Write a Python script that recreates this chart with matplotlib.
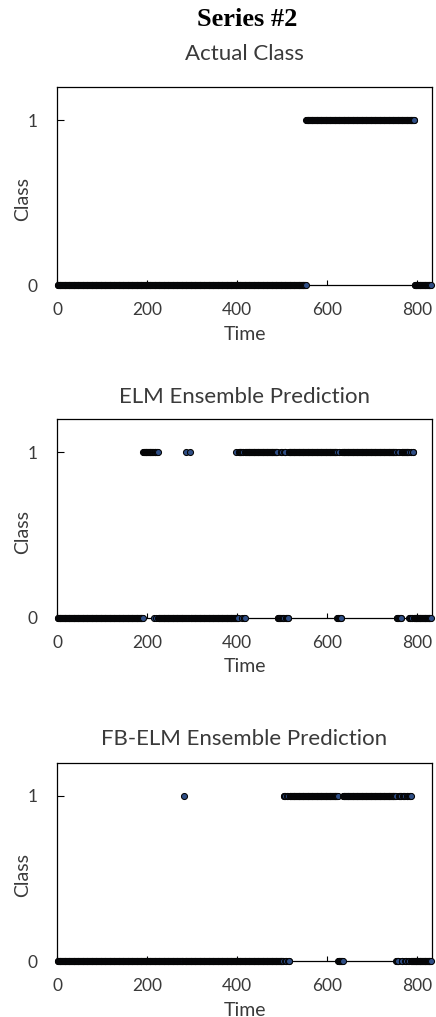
import numpy as np
import matplotlib
matplotlib.use("Agg")
import matplotlib.pyplot as plt

# ---- data: run-length encoded class sequences (start time, end time, class) ----
n_points = 830
actual_runs = [(1, 552, 0), (553, 793, 1), (794, 830, 0)]
elm_runs = [
    (1, 190, 0), (191, 214, 1), (215, 215, 0), (216, 218, 1), (219, 219, 0),
    (220, 223, 1), (224, 284, 0), (285, 285, 1), (286, 294, 0), (295, 295, 1),
    (296, 395, 0), (396, 396, 1), (397, 402, 0), (403, 409, 1), (410, 410, 0),
    (411, 413, 1), (414, 416, 0), (417, 489, 1), (490, 496, 0), (497, 499, 1),
    (500, 503, 0), (504, 507, 1), (508, 513, 0), (514, 621, 1), (622, 625, 0),
    (626, 627, 1), (628, 631, 0), (632, 753, 1), (754, 757, 0), (758, 759, 1),
    (760, 764, 0), (765, 781, 1), (782, 785, 0), (786, 787, 1), (788, 789, 0),
    (790, 791, 1), (792, 830, 0),
]
fbelm_runs = [
    (1, 280, 0), (281, 281, 1), (282, 502, 0), (503, 506, 1), (507, 509, 0),
    (510, 512, 1), (513, 515, 0), (516, 623, 1), (624, 634, 0), (635, 752, 1),
    (753, 758, 0), (759, 764, 1), (765, 767, 0), (768, 772, 1), (773, 775, 0),
    (776, 779, 1), (780, 781, 0), (782, 785, 1), (786, 830, 0),
]
panel_titles = ["Actual Class", "ELM Ensemble Prediction", "FB-ELM Ensemble Prediction"]
x_ticks = [0, 200, 400, 600, 800]
y_ticks = [0, 1]
x_max = 832
y_max = 1.2


def expand(runs):
    t, c = [], []
    for s, e, v in runs:
        for k in range(s, e + 1):
            t.append(k)
            c.append(v)
    return np.array(t), np.array(c)


FONT = ["Lato", "DejaVu Sans"]
TXT = "#3a3a3a"
fig = plt.figure(figsize=(4.36, 10.17), dpi=100)
W, H = 436, 1017
fig.text(247.5 / W, 1 - 20 / H, "Series #2", ha="center", va="center",
         family=["Liberation Serif"], weight="bold", fontsize=19)

panels = [(87, 285), (419, 618), (763, 961)]
title_y = [54, 397, 739]
all_runs = [actual_runs, elm_runs, fbelm_runs]
left, right = 57.3, 431.7
for (top, bot), ty, runs, title in zip(panels, title_y, all_runs, panel_titles):
    ax = fig.add_axes([left / W, 1 - bot / H, (right - left) / W, (bot - top) / H])
    t, c = expand(runs)
    ax.scatter(t, c, s=19, facecolor="#2F4E85", edgecolor="#050505",
               linewidths=0.75, zorder=3, clip_on=False)
    ax.set_xlim(0, x_max)
    ax.set_ylim(0, y_max)
    ax.set_xticks(x_ticks)
    ax.set_yticks(y_ticks)
    ax.set_xticklabels([str(v) for v in x_ticks], family=FONT, fontsize=12.5, color=TXT)
    ax.set_yticklabels([str(v) for v in y_ticks], family=FONT, fontsize=12.5, color=TXT)
    ax.tick_params(axis="x", direction="in", length=3.5, width=0.8, pad=12)
    ax.tick_params(axis="y", direction="in", length=5, width=0.8, pad=14)
    for sp in ax.spines.values():
        sp.set_linewidth(0.9)
        sp.set_color("black")
    ax.set_xlabel("Time", family=FONT, fontsize=14, color=TXT, va="center")
    ax.xaxis.set_label_coords(0.5, -49 / (bot - top))
    ax.set_ylabel("Class", family=FONT, fontsize=14, color=TXT, va="center")
    ax.yaxis.set_label_coords((23 - left) / (right - left), 0.434)
    fig.text(0.5 * (left + right) / W, 1 - ty / H, title, ha="center", va="center",
             family=FONT, fontsize=16, color=TXT)

fig.savefig("out.png", dpi=100)
